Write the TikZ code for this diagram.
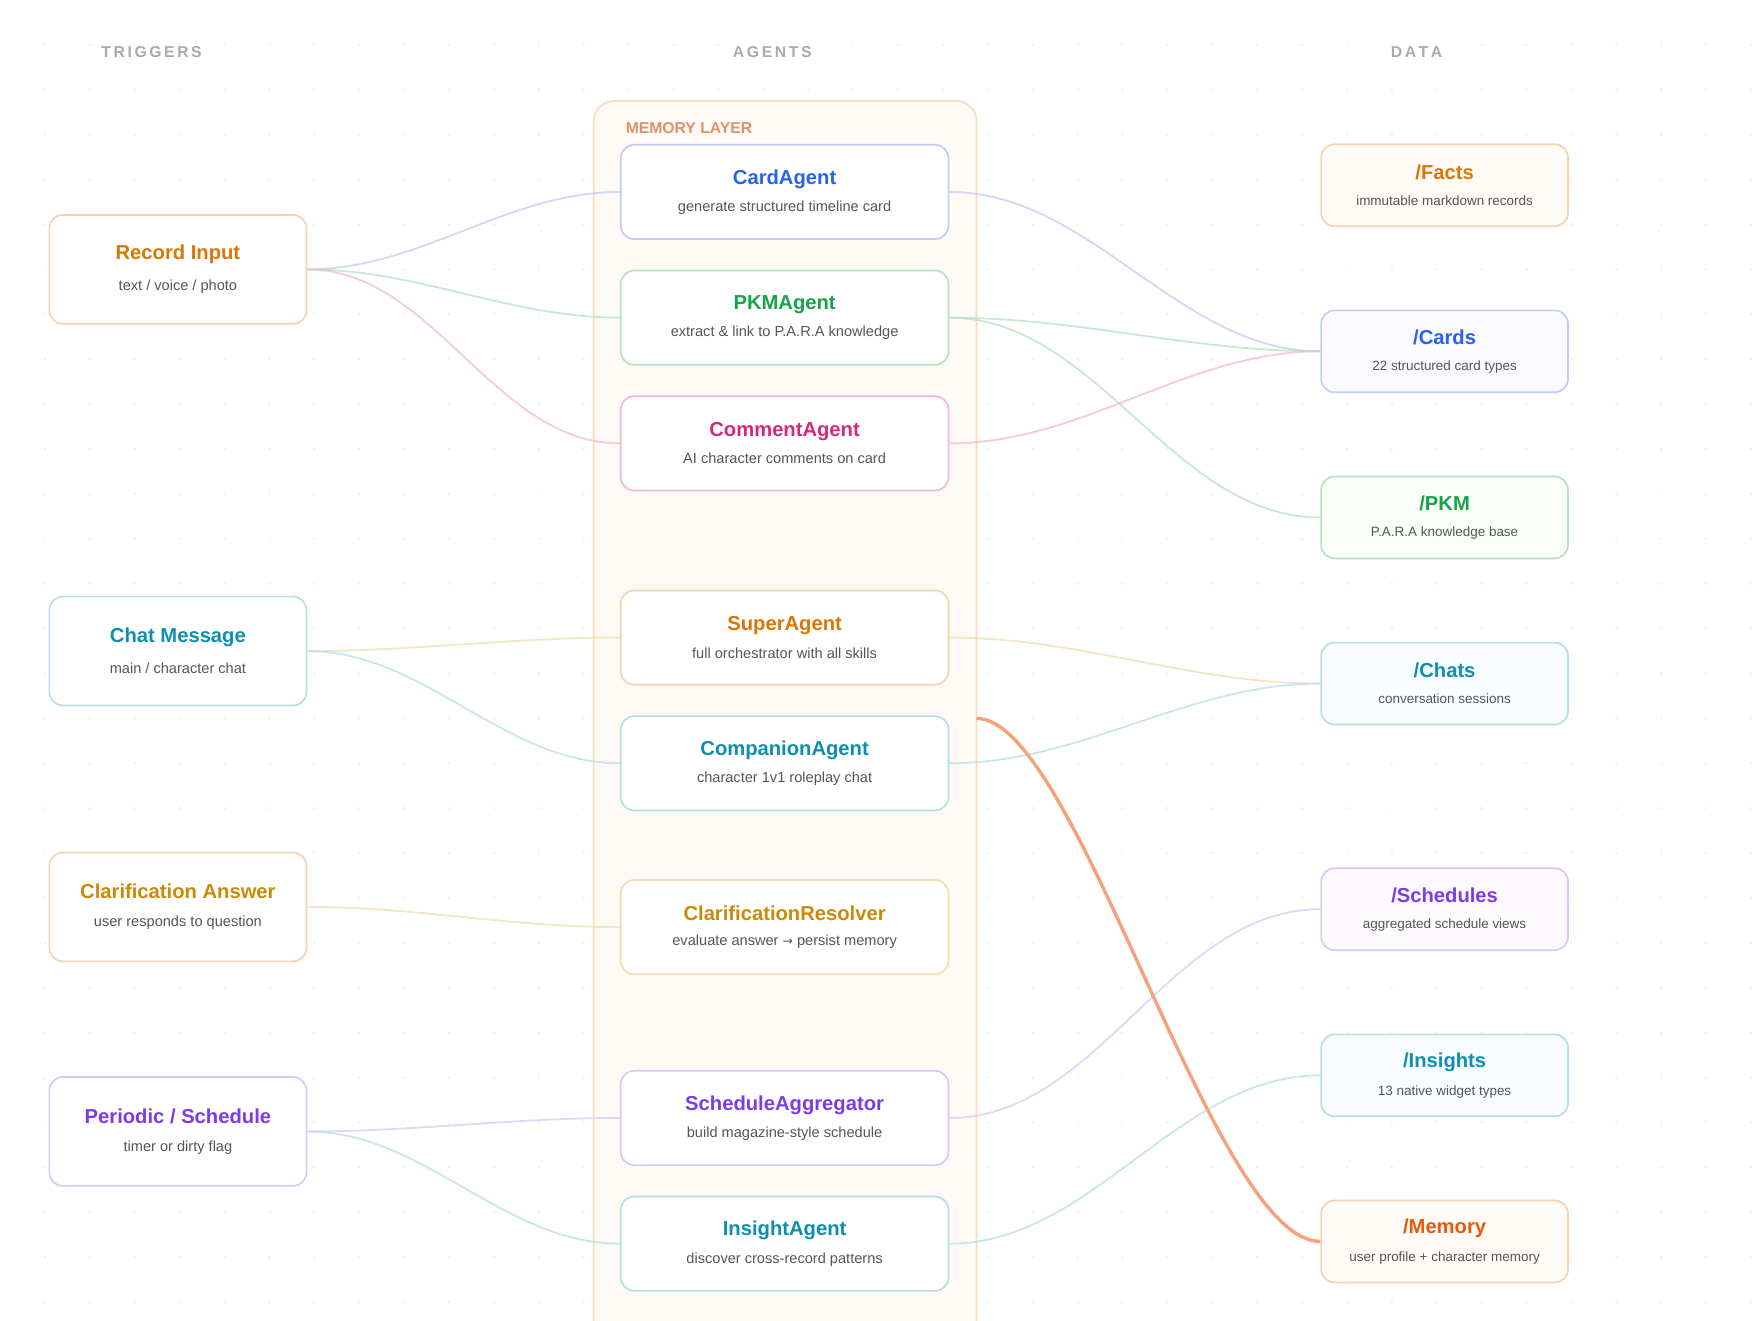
\documentclass[tikz,border=0pt]{standalone}
\usepackage{fontspec}
\setmainfont{Liberation Sans}
\usetikzlibrary{calc}
\definecolor{cblue}{HTML}{2563EB}\definecolor{bblue}{HTML}{BFCDF3}
\definecolor{cgreen}{HTML}{16A34A}\definecolor{bgreen}{HTML}{B5E2C3}
\definecolor{cpink}{HTML}{DB2777}\definecolor{bpink}{HTML}{F3B9D0}
\definecolor{corange}{HTML}{D97706}\definecolor{borange}{HTML}{F6D3AE}
\definecolor{ccyan}{HTML}{0E8FAE}\definecolor{bcyan}{HTML}{B5DEE8}
\definecolor{cpurple}{HTML}{7C3AED}\definecolor{bpurple}{HTML}{D9C8F5}
\definecolor{cgold}{HTML}{CA8A04}\definecolor{bgold}{HTML}{F2DDB0}
\definecolor{cmem}{HTML}{EA580C}\definecolor{lorange}{HTML}{F4A27A}
\definecolor{subg}{HTML}{555555}\definecolor{headg}{HTML}{AAAAAA}
\tikzset{
 box/.style={draw=#1,line width=1.5pt,rounded corners=12pt,fill=white,align=center,inner sep=0pt},
 trig/.style={box=#1,minimum width=229pt,minimum height=97pt},
 agent/.style={box=#1,minimum width=292pt,minimum height=84pt},
 dat/.style={box=#1,minimum width=220pt,minimum height=73pt},
 head/.style={font=\bfseries\fontsize{14}{16}\selectfont,text=headg},
 link/.style={line width=1.6pt,draw=#1,opacity=0.75,out=0,in=180,looseness=0.9}
}
\newcommand{\tb}[4]{{\color{#1}\fontsize{18}{20}\selectfont\bfseries #2}\\[#4]{\fontsize{13}{15}\selectfont\color{subg}#3}}
\newcommand{\db}[3]{{\color{#1}\fontsize{18}{20}\selectfont\bfseries #2}\\[11pt]{\fontsize{12}{14}\selectfont\color{subg}#3}}
\begin{document}
\begin{tikzpicture}[x=1pt,y=-1pt]
\useasboundingbox (0,0) rectangle (1568,1176);
\fill[white] (0,0) rectangle (1568,1176);
\foreach \x in {40,80,...,1560} \foreach \y in {40,80,...,1160} \fill[gray!12] (\x,\y) circle (1.2pt);
\node[head] (h1) at (135,46) {T\,R\,I\,G\,G\,E\,R\,S};
\node[head] (h2) at (688,46) {A\,G\,E\,N\,T\,S};
\node[head] (h3) at (1262,46) {D\,A\,T\,A};
\path[fill=orange!4,draw=borange!80,line width=1.5pt,rounded corners=18pt] (529,1200) -- (529,90) -- (870,90) -- (870,1200);
\node[anchor=west,font=\bfseries\fontsize{14}{16}\selectfont,text=lorange!90!black] (ml) at (554,114) {MEMORY LAYER};
\coordinate (mlr) at (870,640);
% triggers
\node[trig=borange] (t1) at (158.5,240) {\tb{corange}{Record Input}{text / voice / photo}{13pt}};
\node[trig=bcyan] (t2) at (158.5,580) {\tb{ccyan}{Chat Message}{main / character chat}{13pt}};
\node[trig=borange] (t3) at (158.5,808) {\tb{cgold}{Clarification Answer}{user responds to question}{13pt}};
\node[trig=bpurple] (t4) at (158.5,1008) {\tb{cpurple}{Periodic / Schedule}{timer or dirty flag}{13pt}};
% agents
\node[agent=bblue] (a1) at (699,171) {\tb{cblue}{CardAgent}{generate structured timeline card}{10pt}};
\node[agent=bgreen] (a2) at (699,283) {\tb{cgreen}{PKMAgent}{extract \& link to P.A.R.A knowledge}{10pt}};
\node[agent=bpink] (a3) at (699,395) {\tb{cpink}{CommentAgent}{AI character comments on card}{10pt}};
\node[agent=borange] (a4) at (699,568) {\tb{corange}{SuperAgent}{full orchestrator with all skills}{10pt}};
\node[agent=bcyan] (a5) at (699,680) {\tb{ccyan}{CompanionAgent}{character 1v1 roleplay chat}{10pt}};
\node[agent=bgold] (a6) at (699,826) {\tb{cgold}{ClarificationResolver}{evaluate answer {\fontspec{DejaVu Sans}\fontsize{11}{14}\selectfont →} persist memory}{10pt}};
\node[agent=bpurple] (a7) at (699,996) {\tb{cpurple}{ScheduleAggregator}{build magazine-style schedule}{10pt}};
\node[agent=bcyan] (a8) at (699,1108) {\tb{ccyan}{InsightAgent}{discover cross-record patterns}{10pt}};
% data
\node[dat=borange,fill=orange!3] (d1) at (1287,165) {\db{corange}{/Facts}{immutable markdown records}};
\node[dat=bblue,fill=blue!2] (d2) at (1287,313) {\db{cblue}{/Cards}{22 structured card types}};
\node[dat=bgreen,fill=green!2] (d3) at (1287,461) {\db{cgreen}{/PKM}{P.A.R.A knowledge base}};
\node[dat=bcyan,fill=cyan!2] (d4) at (1287,609) {\db{ccyan}{/Chats}{conversation sessions}};
\node[dat=bpurple,fill=violet!2] (d5) at (1287,810) {\db{cpurple}{/Schedules}{aggregated schedule views}};
\node[dat=bcyan,fill=cyan!2] (d6) at (1287,958) {\db{ccyan}{/Insights}{13 native widget types}};
\node[dat=borange,fill=orange!3] (d7) at (1287,1106) {\db{cmem}{/Memory}{user profile + character memory}};
% links
\draw[link=bblue] (t1.east) to (a1.west);
\draw[link=bgreen] (t1.east) to (a2.west);
\draw[link=bpink] (t1.east) to (a3.west);
\draw[link=bgold] (t2.east) to (a4.west);
\draw[link=bcyan] (t2.east) to (a5.west);
\draw[link=bgold] (t3.east) to (a6.west);
\draw[link=bpurple] (t4.east) to (a7.west);
\draw[link=bcyan] (t4.east) to (a8.west);
\draw[link=bblue] (a1.east) to (d2.west);
\draw[link=bgreen] (a2.east) to (d2.west);
\draw[link=bgreen] (a2.east) to (d3.west);
\draw[link=bpink] (a3.east) to (d2.west);
\draw[link=bgold] (a4.east) to (d4.west);
\draw[link=bcyan] (a5.east) to (d4.west);
\draw[link=bpurple] (a7.east) to (d5.west);
\draw[link=bcyan] (a8.east) to (d6.west);
\draw[line width=3pt,draw=lorange] (mlr) .. controls (960,640) and (1080,1106) .. (d7.west);
\end{tikzpicture}
\end{document}
